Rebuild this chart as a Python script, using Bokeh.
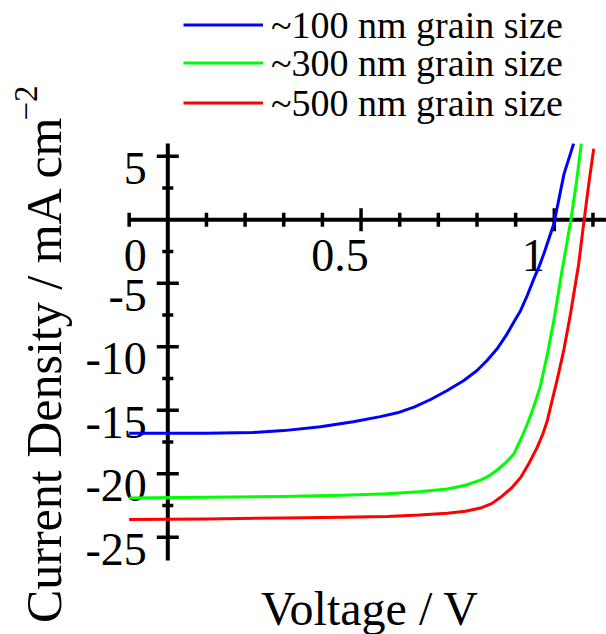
import math
from bokeh.plotting import figure
from bokeh.models import Range1d, Label, Legend, LegendItem
from bokeh.core.properties import value
from bokeh.embed import file_html
from bokeh.resources import INLINE

# ---------------- data ----------------
series_names = ["~100 nm grain size", "~300 nm grain size", "~500 nm grain size"]
series_colors = ["#0000ff", "#00ff00", "#ff0000"]

v_100 = [-0.1, 0.0, 0.1, 0.22, 0.3, 0.395, 0.48, 0.55, 0.594, 0.637, 0.68, 0.723,
         0.766, 0.80, 0.826, 0.852, 0.878, 0.895, 0.913, 0.93, 0.947, 0.96, 0.973,
         0.986, 0.999, 1.025, 1.05]
j_100 = [-16.8, -16.8, -16.8, -16.75, -16.6, -16.3, -15.9, -15.5, -15.2, -14.75, -14.15, -13.44,
         -12.65, -11.87, -11.08, -10.16, -8.98, -8.06, -7.14, -5.96, -4.65, -3.73, -2.68,
         -1.5, -0.31, 3.6, 6.0]

v_300 = [-0.1, 0.1, 0.3, 0.45, 0.568, 0.65, 0.723, 0.77, 0.809, 0.832, 0.852, 0.875, 0.895,
         0.913, 0.93, 0.947, 0.964, 0.982, 0.999, 1.02, 1.042, 1.057, 1.07]
j_300 = [-21.9, -21.85, -21.78, -21.68, -21.57, -21.42, -21.2, -20.9, -20.5, -20.15, -19.7, -19.1, -18.45,
         -17.3, -16.1, -14.7, -13.1, -10.6, -7.9, -4.0, -0.2, 2.9, 6.0]

v_500 = [-0.1, 0.1, 0.3, 0.45, 0.568, 0.65, 0.723, 0.77, 0.809, 0.838, 0.861, 0.89, 0.913,
         0.935, 0.956, 0.97, 0.982, 1.007, 1.025, 1.042, 1.063, 1.076, 1.09, 1.102]
j_500 = [-23.6, -23.55, -23.48, -23.42, -23.36, -23.25, -23.1, -22.95, -22.7, -22.35, -21.85, -21.1, -20.3,
         -19.15, -17.9, -16.9, -15.8, -12.65, -10.2, -7.4, -3.5, -0.3, 3.0, 5.6]

x_major_ticks = [0.5, 1.0]
x_major_labels = ["0.5", "1"]
x_minor_ticks = [-0.1, 0.1, 0.2, 0.3, 0.4, 0.6, 0.7, 0.8, 0.9, 1.1]
y_major_ticks = [5, -5, -10, -15, -20, -25]
y_major_labels = ["5", "-5", "-10", "-15", "-20", "-25"]
y_minor_ticks = [2.5, -2.5, -7.5, -12.5, -17.5, -22.5]
origin_label = "0"
x_axis_extent = [-0.1, 1.2]
y_axis_extent = [-26.83, 6.0]
x_title = "Voltage / V"
y_title = "Current Density / mA cm"
y_title_sup = "\u22122"

FONT = "Liberation Serif"

# ---------------- figure ----------------
p = figure(width=606, height=634,
           x_range=Range1d(-0.43286, 1.13506), y_range=Range1d(-32.654, 17.268),
           x_axis_location=None, y_axis_location=None,
           toolbar_location=None, output_backend="svg", min_border=0)
p.grid.visible = False
p.outline_line_color = None
p.background_fill_color = "white"
p.border_fill_color = "white"

# axes lines
p.segment(x0=[x_axis_extent[0]], y0=[0], x1=[x_axis_extent[1]], y1=[0],
          line_color="black", line_width=4)
p.segment(x0=[0], y0=[y_axis_extent[0]], x1=[0], y1=[y_axis_extent[1]],
          line_color="black", line_width=4)

# ticks
p.scatter(x=[0] * len(y_major_ticks), y=y_major_ticks, marker="dash", size=22,
          line_color="black", line_width=3.5)
p.scatter(x=[0] * len(y_minor_ticks), y=y_minor_ticks, marker="dash", size=11,
          line_color="black", line_width=3.5)
p.scatter(x=x_major_ticks, y=[0] * len(x_major_ticks), marker="dash", size=23, angle=math.pi / 2,
          line_color="black", line_width=3.5)
p.scatter(x=x_minor_ticks, y=[0] * len(x_minor_ticks), marker="dash", size=14, angle=math.pi / 2,
          line_color="black", line_width=3.5)

# tick labels
p.text(x=[0] * len(y_major_ticks), y=y_major_ticks, text=y_major_labels,
       text_align="right", text_baseline="alphabetic", x_offset=-21, y_offset=12,
       text_font=value(FONT), text_font_size=value("46px"), text_color="black")
p.text(x=[0], y=[0], text=[origin_label],
       text_align="right", text_baseline="alphabetic", x_offset=-21, y_offset=36,
       text_font=value(FONT), text_font_size=value("46px"), text_color="black")
p.text(x=x_major_ticks, y=[0] * len(x_major_ticks), text=x_major_labels,
       text_align="center", text_baseline="alphabetic", x_offset=-21, y_offset=36,
       text_font=value(FONT), text_font_size=value("46px"), text_color="black")

# curves
renderers = []
for vv, jj, c in zip([v_100, v_300, v_500], [j_100, j_300, j_500], series_colors):
    r = p.line(vv, jj, line_color=c, line_width=3, line_join="round")
    renderers.append(r)

# legend: one single-row legend per series, stacked at the reference's row pitch
legend_rows_y = [587.5, 549.2, 509.2]
for n, r, ly in zip(series_names, renderers, legend_rows_y):
    legend = Legend(items=[LegendItem(label=n, renderers=[r])],
                    location=(183, ly), orientation="vertical",
                    glyph_width=80, glyph_height=39, label_height=39, label_standoff=8,
                    spacing=0, padding=0, margin=0,
                    border_line_alpha=0, background_fill_alpha=0,
                    label_text_font=FONT, label_text_font_size="38px", label_text_color="black",
                    label_text_line_height=1.0)
    p.add_layout(legend)

# axis titles
p.add_layout(Label(x=369.5, y=26, x_units="screen", y_units="screen", text=x_title,
                   text_align="center", text_baseline="alphabetic",
                   text_font=FONT, text_font_size="48px", text_color="black"))
p.add_layout(Label(x=43, y=265.6, x_units="screen", y_units="screen", text=y_title,
                   angle=math.pi / 2, text_align="center", text_baseline="alphabetic",
                   text_font=FONT, text_font_size="50px", text_color="black"))
p.add_layout(Label(x=25, y=514, x_units="screen", y_units="screen", text=y_title_sup,
                   angle=math.pi / 2, text_align="left", text_baseline="alphabetic",
                   text_font=FONT, text_font_size="33px", text_color="black"))

open("out.html", "w").write(file_html(p, INLINE))
